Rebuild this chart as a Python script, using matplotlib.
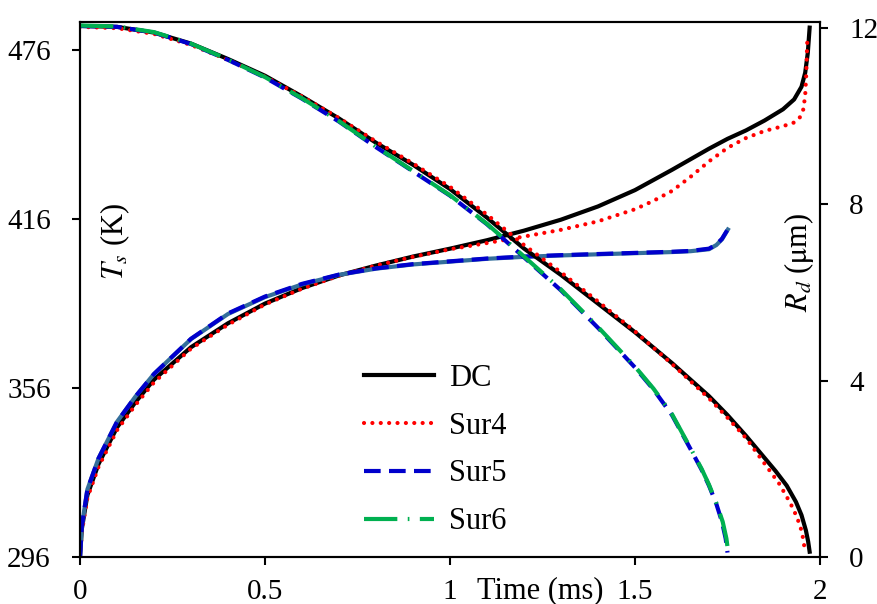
import matplotlib
matplotlib.use("Agg")
import matplotlib.pyplot as plt

plt.rcParams['font.family'] = ['Liberation Serif', 'DejaVu Serif']
plt.rcParams['mathtext.fontset'] = 'stix'

# surface temperature (K) vs time (ms)
t_dc_T = [0, 0.005, 0.02, 0.05, 0.1, 0.15, 0.2, 0.3, 0.4, 0.5, 0.6, 0.7, 0.8, 0.9, 1.0,
          1.1, 1.2, 1.3, 1.4, 1.5, 1.6, 1.7, 1.75, 1.8, 1.85, 1.9, 1.93, 1.95, 1.96, 1.967, 1.972]
T_dc = [296, 306, 318, 329, 342, 351, 359, 370.5, 379, 386, 391.5, 396, 399.5, 402.7, 405.5,
        408.5, 411.9, 415.8, 420.5, 426.3, 433.5, 441, 444.5, 447.5, 451, 455, 458.5, 463, 468, 475, 484]

t_s4_T = [0, 0.005, 0.02, 0.05, 0.1, 0.15, 0.2, 0.3, 0.4, 0.5, 0.6, 0.7, 0.8, 0.9, 1.0,
          1.1, 1.2, 1.3, 1.4, 1.5, 1.55, 1.6, 1.65, 1.7, 1.75, 1.8, 1.85, 1.9, 1.93,
          1.945, 1.955, 1.96, 1.963, 1.966]
T_s4 = [296, 305, 317, 328, 341, 350, 358, 370, 378.5, 385.7, 391.3, 395.9, 399.5, 402.6, 405.3,
        407.5, 409.8, 412.2, 415.2, 419.5, 422.5, 426, 431, 436.5, 441.3, 444.8, 447.3, 449, 450.3,
        452, 455, 460, 468, 481]

t_s5_T = [0, 0.005, 0.02, 0.05, 0.1, 0.15, 0.2, 0.3, 0.4, 0.5, 0.6, 0.7, 0.8, 0.9, 1.0,
          1.1, 1.2, 1.3, 1.4, 1.5, 1.6, 1.65, 1.7, 1.72, 1.735, 1.749]
T_s5 = [296, 307, 320, 331, 344, 353, 361, 373.5, 382.5, 388.5, 393, 396.3, 398.5, 400, 401,
        402, 402.7, 403.2, 403.6, 404, 404.4, 404.7, 405.5, 407, 409, 412]

t_s6_T = [0, 0.005, 0.02, 0.05, 0.1, 0.15, 0.2, 0.3, 0.4, 0.5, 0.6, 0.7, 0.8, 0.9, 1.0,
          1.1, 1.2, 1.3, 1.4, 1.5, 1.6, 1.65, 1.7, 1.72, 1.735, 1.751]
T_s6 = [296, 307, 320, 331, 344, 353, 361, 373.4, 382.3, 388.3, 392.8, 396.2, 398.4, 399.9, 400.9,
        401.9, 402.6, 403.1, 403.5, 403.9, 404.3, 404.6, 405.3, 406.8, 408.8, 412.3]

# droplet radius (um) vs time (ms)
t_dc_R = [0, 0.1, 0.2, 0.3, 0.4, 0.5, 0.6, 0.7, 0.8, 0.9, 1.0, 1.1, 1.2, 1.3, 1.4, 1.5,
          1.6, 1.7, 1.75, 1.8, 1.85, 1.88, 1.91, 1.935, 1.95, 1.962, 1.968, 1.972]
R_dc = [12.05, 12.03, 11.9, 11.65, 11.3, 10.92, 10.45, 9.95, 9.4, 8.9, 8.35, 7.7, 7.0, 6.4, 5.75, 5.1,
        4.4, 3.65, 3.22, 2.75, 2.25, 1.95, 1.62, 1.25, 0.95, 0.6, 0.35, 0.12]

t_s4_R = [0, 0.1, 0.2, 0.3, 0.4, 0.5, 0.6, 0.7, 0.8, 0.9, 1.0, 1.1, 1.2, 1.3, 1.4, 1.5,
          1.6, 1.7, 1.75, 1.8, 1.857, 1.89, 1.92, 1.938, 1.95, 1.956, 1.959]
R_s4 = [12.03, 12.0, 11.87, 11.62, 11.28, 10.9, 10.45, 9.96, 9.43, 8.93, 8.4, 7.77, 7.08, 6.46, 5.8, 5.12,
        4.38, 3.6, 3.16, 2.7, 2.04, 1.66, 1.22, 0.9, 0.6, 0.35, 0.12]

t_s5_R = [0, 0.1, 0.2, 0.3, 0.4, 0.5, 0.6, 0.7, 0.8, 0.9, 1.0, 1.1, 1.2, 1.3, 1.4, 1.5,
          1.55, 1.6, 1.65, 1.68, 1.7, 1.72, 1.735, 1.745, 1.75]
R_s5 = [12.05, 12.03, 11.9, 11.64, 11.28, 10.88, 10.4, 9.88, 9.3, 8.75, 8.2, 7.55, 6.8, 6.05, 5.2, 4.3,
        3.8, 3.22, 2.45, 1.98, 1.62, 1.2, 0.8, 0.42, 0.1]

t_s6_R = [0, 0.1, 0.2, 0.3, 0.4, 0.5, 0.6, 0.7, 0.8, 0.9, 1.0, 1.1, 1.2, 1.3, 1.4, 1.5,
          1.55, 1.6, 1.65, 1.68, 1.7, 1.72, 1.737, 1.747, 1.752]
R_s6 = [12.06, 12.04, 11.91, 11.65, 11.29, 10.89, 10.41, 9.89, 9.31, 8.76, 8.21, 7.56, 6.82, 6.07, 5.22, 4.32,
        3.82, 3.24, 2.47, 2.0, 1.64, 1.22, 0.8, 0.42, 0.1]

x_ticks = [0, 0.5, 1, 1.5, 2]
x_labels = ['0', '0.5', '1', '1.5', '2']
T_ticks = [296, 356, 416, 476]
R_ticks = [0, 4, 8, 12]

red = '#FF0000'
blue = '#0000CC'
green = '#00B050'
steel = '#336E9B'

fig = plt.figure(figsize=(8.77, 6.04), dpi=100)
ax = fig.add_axes([80 / 877, 1 - 557 / 604, 740 / 877, 535 / 604])
ax2 = ax.twinx()

lw = 3.0
dot = (0, (0.01, 2.0))
dash = (0, (4.0, 2.0))
dashdot = (0, (8.0, 2.5, 0.4, 2.5))

ax.plot(t_dc_T, T_dc, color='black', lw=lw)
ax.plot(t_s4_T, T_s4, color=red, lw=lw, linestyle=dot, dash_capstyle='round')
ax.plot(t_s6_T, T_s6, color=steel, lw=lw)
ax.plot(t_s5_T, T_s5, color=blue, lw=lw, linestyle=dash)

l_dc, = ax2.plot(t_dc_R, R_dc, color='black', lw=lw, label='DC')
l_s4, = ax2.plot(t_s4_R, R_s4, color=red, lw=lw, linestyle=dot,
                 dash_capstyle='round', label='Sur4')
l_s5, = ax2.plot(t_s5_R, R_s5, color=blue, lw=lw, linestyle=dash, label='Sur5')
l_s6, = ax2.plot(t_s6_R, R_s6, color=green, lw=lw, linestyle=dashdot, label='Sur6')

ax.set_xlim(0, 2)
ax.set_ylim(296, 486)
ax2.set_ylim(0, 12.14)

ax.set_xticks(x_ticks)
ax.set_xticklabels(x_labels)
ax.set_yticks(T_ticks)
ax2.set_yticks(R_ticks)

fs = 21
fs2 = 22
for a in (ax, ax2):
    for s in a.spines.values():
        s.set_linewidth(1.5)
ax.tick_params(axis='x', direction='out', length=6, width=1.5, labelsize=fs, pad=10)
ax.tick_params(axis='y', direction='out', length=6, width=1.5, labelsize=fs, pad=15)
ax2.tick_params(axis='y', direction='out', length=6, width=1.5, labelsize=fs, pad=15)

ax.text(0.047, 0.59, r'$T_s$ (K)', transform=ax.transAxes, rotation=90,
        ha='center', va='center', fontsize=fs2)
ax2.text(0.972, 0.55, r'$R_d$ ($\mathrm{\mu}$m)', transform=ax.transAxes, rotation=90,
         ha='center', va='center', fontsize=fs2)
ax.text(0.622, -0.035, 'Time (ms)', transform=ax.transAxes, ha='center', va='top', fontsize=fs2)

ax2.legend(handles=[l_dc, l_s4, l_s5, l_s6], loc='center', bbox_to_anchor=(0.48, 0.2),
           frameon=False, fontsize=fs2, handlelength=2.3, handletextpad=0.5, labelspacing=0.62)

fig.savefig('out.png', dpi=100)
